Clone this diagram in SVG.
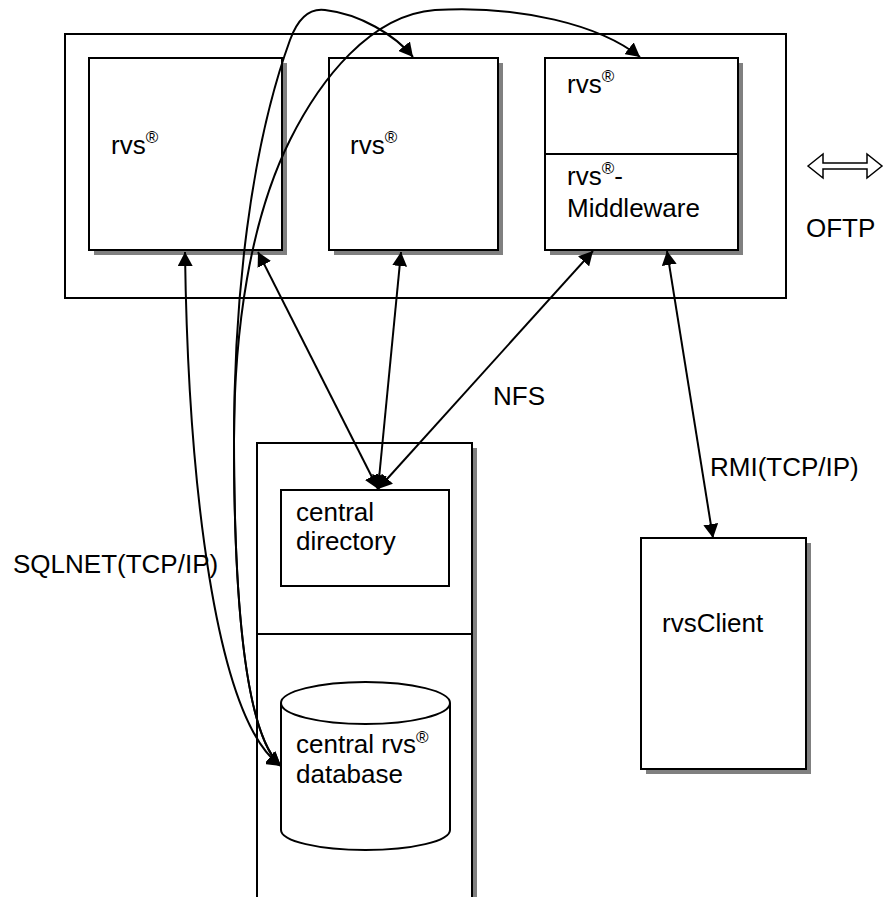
<svg xmlns="http://www.w3.org/2000/svg" width="888" height="897" viewBox="0 0 888 897">
<style>
.box{fill:#fff;stroke:#000;stroke-width:2}
.sh{fill:#808080}
.ln{fill:none;stroke:#000;stroke-width:2}
.con{fill:none;stroke:#000;stroke-width:2}
text{font-family:"Liberation Sans",Arial,sans-serif;font-size:26px;fill:#000}
.sup{font-size:17px}
</style>
<defs>
<marker id="ah" viewBox="0 0 14 15" refX="14" refY="7.5" markerWidth="14" markerHeight="15" markerUnits="userSpaceOnUse" orient="auto-start-reverse">
<path d="M0,0 L14,7.5 L0,15 z" fill="#000"/>
</marker>
</defs>
<rect width="888" height="897" fill="#fff"/>
<g id="outer">
<rect class="box" x="65" y="34" width="721" height="264"/>
</g>
<g id="rvs1">
<rect class="sh" x="94" y="63" width="193" height="192"/>
<rect class="box" x="89" y="58" width="193" height="192"/>
<text x="111" y="154">rvs<tspan class="sup" dy="-11">®</tspan></text>
</g>
<g id="rvs2">
<rect class="sh" x="334" y="63" width="169" height="192"/>
<rect class="box" x="329" y="58" width="169" height="192"/>
<text x="350" y="154">rvs<tspan class="sup" dy="-11">®</tspan></text>
</g>
<g id="rvs3">
<rect class="sh" x="550" y="63" width="193" height="192"/>
<rect class="box" x="545" y="58" width="193" height="192"/>
<line class="ln" x1="545" y1="154" x2="738" y2="154"/>
<text x="567" y="93">rvs<tspan class="sup" dy="-11">®</tspan></text>
<text x="567" y="185">rvs<tspan class="sup" dy="-11">®</tspan><tspan dy="11">-</tspan></text>
<text x="567" y="217">Middleware</text>
</g>
<g id="oftp">
<polygon points="808,166 823,154 823,163 867,163 867,154 882,166 867,178 867,169 823,169 823,178" fill="#fff" stroke="#000" stroke-width="1.5"/>
<text x="806" y="237">OFTP</text>
</g>
<g id="server">
<rect class="sh" x="262" y="448" width="215" height="470"/>
<rect class="box" x="257" y="443" width="215" height="470"/>
<line class="ln" x1="257" y1="634" x2="472" y2="634"/>
</g>
<g id="centraldir">
<rect class="box" x="281" y="490" width="168" height="96"/>
<text x="296" y="521">central</text>
<text x="296" y="550">directory</text>
</g>
<g id="database">
<path class="box" d="M281,703 L281,830 A84.5,20 0 0 0 450,830 L450,703 A84.5,21 0 0 0 281,703 Z"/>
<path class="ln" d="M281,703 A84.5,21 0 0 0 450,703"/>
<text x="296" y="753">central rvs<tspan class="sup" dy="-10">®</tspan></text>
<text x="296" y="783">database</text>
</g>
<g id="rvsclient">
<rect class="sh" x="646" y="543" width="165" height="231"/>
<rect class="box" x="641" y="538" width="165" height="231"/>
<text x="662" y="632">rvsClient</text>
</g>
<g id="connectors">
<line class="con" x1="258" y1="252" x2="378" y2="489" marker-start="url(#ah)" marker-end="url(#ah)"/>
<line class="con" x1="401" y1="252" x2="378" y2="489" marker-start="url(#ah)" marker-end="url(#ah)"/>
<line class="con" x1="593" y1="251" x2="378" y2="489" marker-start="url(#ah)" marker-end="url(#ah)"/>
<line class="con" x1="667" y1="251" x2="713" y2="538" marker-start="url(#ah)" marker-end="url(#ah)"/>
<path class="con" d="M185,252 C188,480 215,720 281,766" marker-start="url(#ah)" marker-end="url(#ah)"/>
<path class="con" d="M281,766 C245,735 234,600 234,440 C234,300 250,150 290,40 C298,18 310,8 325,10 C360,14 395,35 413,57" marker-start="url(#ah)" marker-end="url(#ah)"/>
<path class="con" d="M281,766 C245,735 234,600 234,440 C234,330 250,220 290,140 C320,80 370,15 435,10 C520,5 600,25 640,57" marker-start="url(#ah)" marker-end="url(#ah)"/>
</g>
<g id="labels">
<text x="493" y="405">NFS</text>
<text x="710" y="476">RMI(TCP/IP)</text>
<text x="13" y="573">SQLNET(TCP/IP)</text>
</g>
</svg>
